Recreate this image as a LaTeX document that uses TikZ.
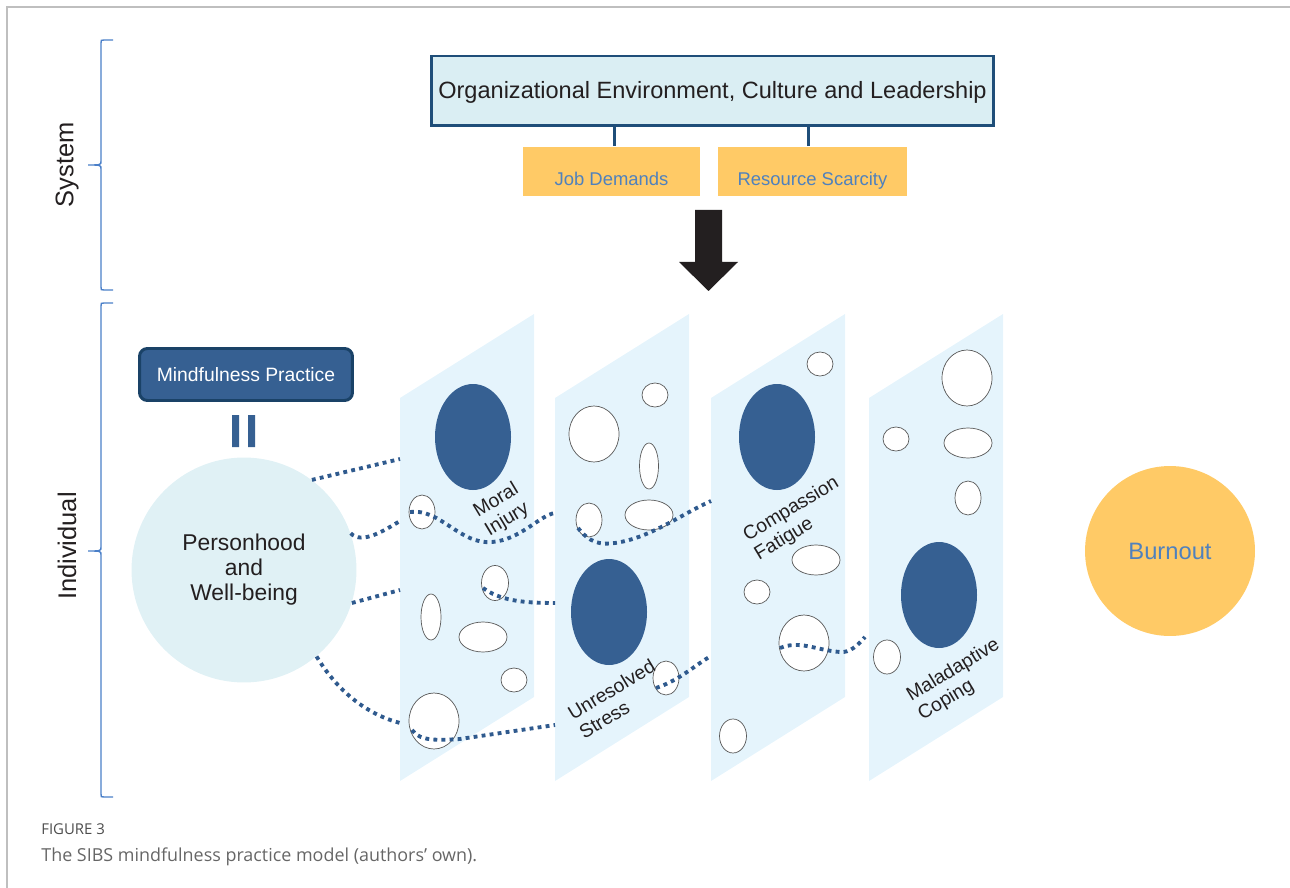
\documentclass[tikz,border=0pt]{standalone}
\usepackage{fontspec}
\setmainfont{Liberation Sans}
\newfontfamily\capfont{Open Sans}
\usetikzlibrary{positioning,shapes.geometric}
\definecolor{sibsblue}{HTML}{366092}
\definecolor{sibsdark}{HTML}{1F4E79}
\definecolor{sibslight}{HTML}{DAEEF3}
\definecolor{panelblue}{HTML}{E5F4FC}
\definecolor{sibsgold}{HTML}{FFCA66}
\definecolor{labelblue}{HTML}{4F81BD}
\definecolor{bracecol}{HTML}{4A7FC8}
\definecolor{dotcol}{HTML}{2F5A8E}
\definecolor{inkcol}{HTML}{231F20}
\tikzset{orgbox/.style={draw=sibsdark, line width=1.7pt, fill=sibslight, minimum width=11.24cm, minimum height=1.4cm, inner sep=0pt, text=inkcol, text height=9pt, text depth=0pt, font=\fontsize{13.4}{15}\selectfont}}
\tikzset{factor/.style={fill=sibsgold, minimum height=1cm, inner sep=0pt, text=labelblue, text height=15.6pt, text depth=0pt, font=\fontsize{10.5}{12}\selectfont}}
\tikzset{mindbox/.style={draw=sibsdark!85!black, line width=1.7pt, fill=sibsblue, rounded corners=4.5pt, minimum width=4.26cm, minimum height=1.04cm, inner sep=0pt, text=white, font=\fontsize{11}{13}\selectfont}}
\tikzset{bignode/.style={circle, inner sep=0pt, align=center}}
\tikzset{hole/.style={draw=black!65, line width=0.4pt, fill=white}}
\tikzset{dotline/.style={draw=dotcol, line width=2.2pt, dash pattern=on 2.2pt off 2.4pt}}
\tikzset{layerlabel/.style={rotate=31, align=left, text=inkcol, font=\fontsize{11}{12.5}\selectfont}}
\tikzset{sidelabel/.style={rotate=90, text=inkcol, font=\fontsize{14.5}{16}\selectfont}}
\newcommand{\sibsbrace}[3]{%
  \draw[bracecol, line width=0.8pt] (113,#1) -- (104,#1) .. controls (101,#1) .. (101,{#1+3}) -- (101,{#2-4})
    .. controls (101,#2) .. (88,#2) .. controls (101,#2) .. (101,{#2+4}) -- (101,{#3-3})
    .. controls (101,#3) .. (104,#3) -- (113,#3);}

\begin{document}
\begin{tikzpicture}[x=0.02cm,y=-0.02cm]
\useasboundingbox (0,0) rectangle (1290,888);
\draw[black!25, line width=0.6pt] (7,888) -- (7,7) -- (1290,7);

% system / individual
\sibsbrace{40}{165}{290}
\sibsbrace{303}{551}{797}
\node[sidelabel] (system) at (67,165) {System};
\node[sidelabel] (individual) at (67,546) {Individual};

\node[orgbox] (org) at (712.5,91) {Organizational Environment, Culture and Leadership};
\node[factor, minimum width=3.54cm] (jobd) at (611.5,171.5) {Job Demands};
\node[factor, minimum width=3.78cm] (ressc) at (812.5,171.5) {Resource Scarcity};
\draw[sibsdark, line width=1.7pt] ([xshift=0.05cm]jobd.north) -- ([xshift=0.05cm]jobd.north |- org.south);
\draw[sibsdark, line width=1.7pt] ([xshift=-0.09cm]ressc.north) -- ([xshift=-0.09cm]ressc.north |- org.south);
\fill[inkcol] (695,210) -- (722,210) -- (722,262) -- (738,262) -- (708.5,291) -- (679,262) -- (695,262) -- cycle;

\node[mindbox] (mind) at (246,374.5) {Mindfulness Practice};
\fill[sibsblue] (232,415) rectangle (239,447) (248,415) rectangle (255,447);
\node[bignode, fill=sibslight!85!white, minimum size=4.5cm, text=inkcol,
  font=\fontsize{13}{14.2}\selectfont] (person) at (244,570) {Personhood\\and\\Well-being};
\node[bignode, fill=sibsgold, minimum size=3.4cm, text=labelblue,
  font=\fontsize{13.5}{15}\selectfont] (burnout) at (1170,551) {Burnout};

% layers
\foreach \lx in {400,555,711,869}
  \fill[panelblue] (\lx,398) -- ++(134,-84) -- ++(0,383) -- ++(-134,84) -- cycle;
\foreach \cx/\cy/\rx/\ry in {422/512/13/17, 495/583/13.5/17.5, 431/617/10/23, 483/637/24/15,
  514/680/13/12, 434/721/25/28, 655/395/13/12, 594/434/25/28, 649/466/9.5/23, 589/520/13/17,
  649/515/24/15, 666/678/13/17, 820/364/13/12, 816/560/24/15, 757/592/13/12, 804/643/25/28,
  733/736/13.5/17, 967/378/25/28, 896/439/13/12, 968/443/24/15, 968/498/13/17, 887/657/13.5/17}
  \draw[hole] (\cx,\cy) ellipse [x radius=\rx, y radius=\ry];
\foreach \cx/\cy in {473/437, 609/612, 777/437, 939/595}
  \fill[sibsblue] (\cx,\cy) ellipse [x radius=38, y radius=53];

% dotted paths
\draw[dotline] (person.53) -- (400,459);
\draw[dotline] (person.19) .. controls (362,545) and (385,530) .. (400,521);
\draw[dotline] (410,512) .. controls (440,508) and (460,545) .. (492,542) .. controls (520,540) and (540,515) .. (555,513);
\draw[dotline] (578,528) .. controls (590,543) and (600,545) .. (615,543) .. controls (650,538) and (680,515) .. (711,501);
\draw[dotline] (person.-17) -- (400,590);
\draw[dotline] (483,588) .. controls (500,600) and (520,603) .. (555,603);
\draw[dotline] (person.-50) .. controls (340,695) and (370,715) .. (400,723);
\draw[dotline] (412,730) .. controls (420,742) and (440,740) .. (460,739) -- (555,725);
\draw[dotline] (656,688) .. controls (680,680) and (695,665) .. (711,656);
\draw[dotline] (780,648) .. controls (800,640) and (815,650) .. (840,652) .. controls (850,653) and (858,645) .. (865,637);

\node[layerlabel] (moral) at (502,510) {Moral\\Injury};
\node[layerlabel] (stress) at (617,699) {Unresolved\\Stress};
\node[layerlabel] (fatigue) at (797,519) {Compassion\\Fatigue};
\node[layerlabel] (coping) at (959,680) {Maladaptive\\Coping};

\node[anchor=base west, inner sep=0pt, text=black!70, font=\capfont\fontsize{8.5}{10}\selectfont] (figno) at (41,834) {FIGURE 3};
\node[anchor=base west, inner sep=0pt, text=black!60, font=\capfont\fontsize{10.2}{12}\selectfont] (caption) at (41,861) {The SIBS mindfulness practice model (authors’ own).};
\end{tikzpicture}
\end{document}
